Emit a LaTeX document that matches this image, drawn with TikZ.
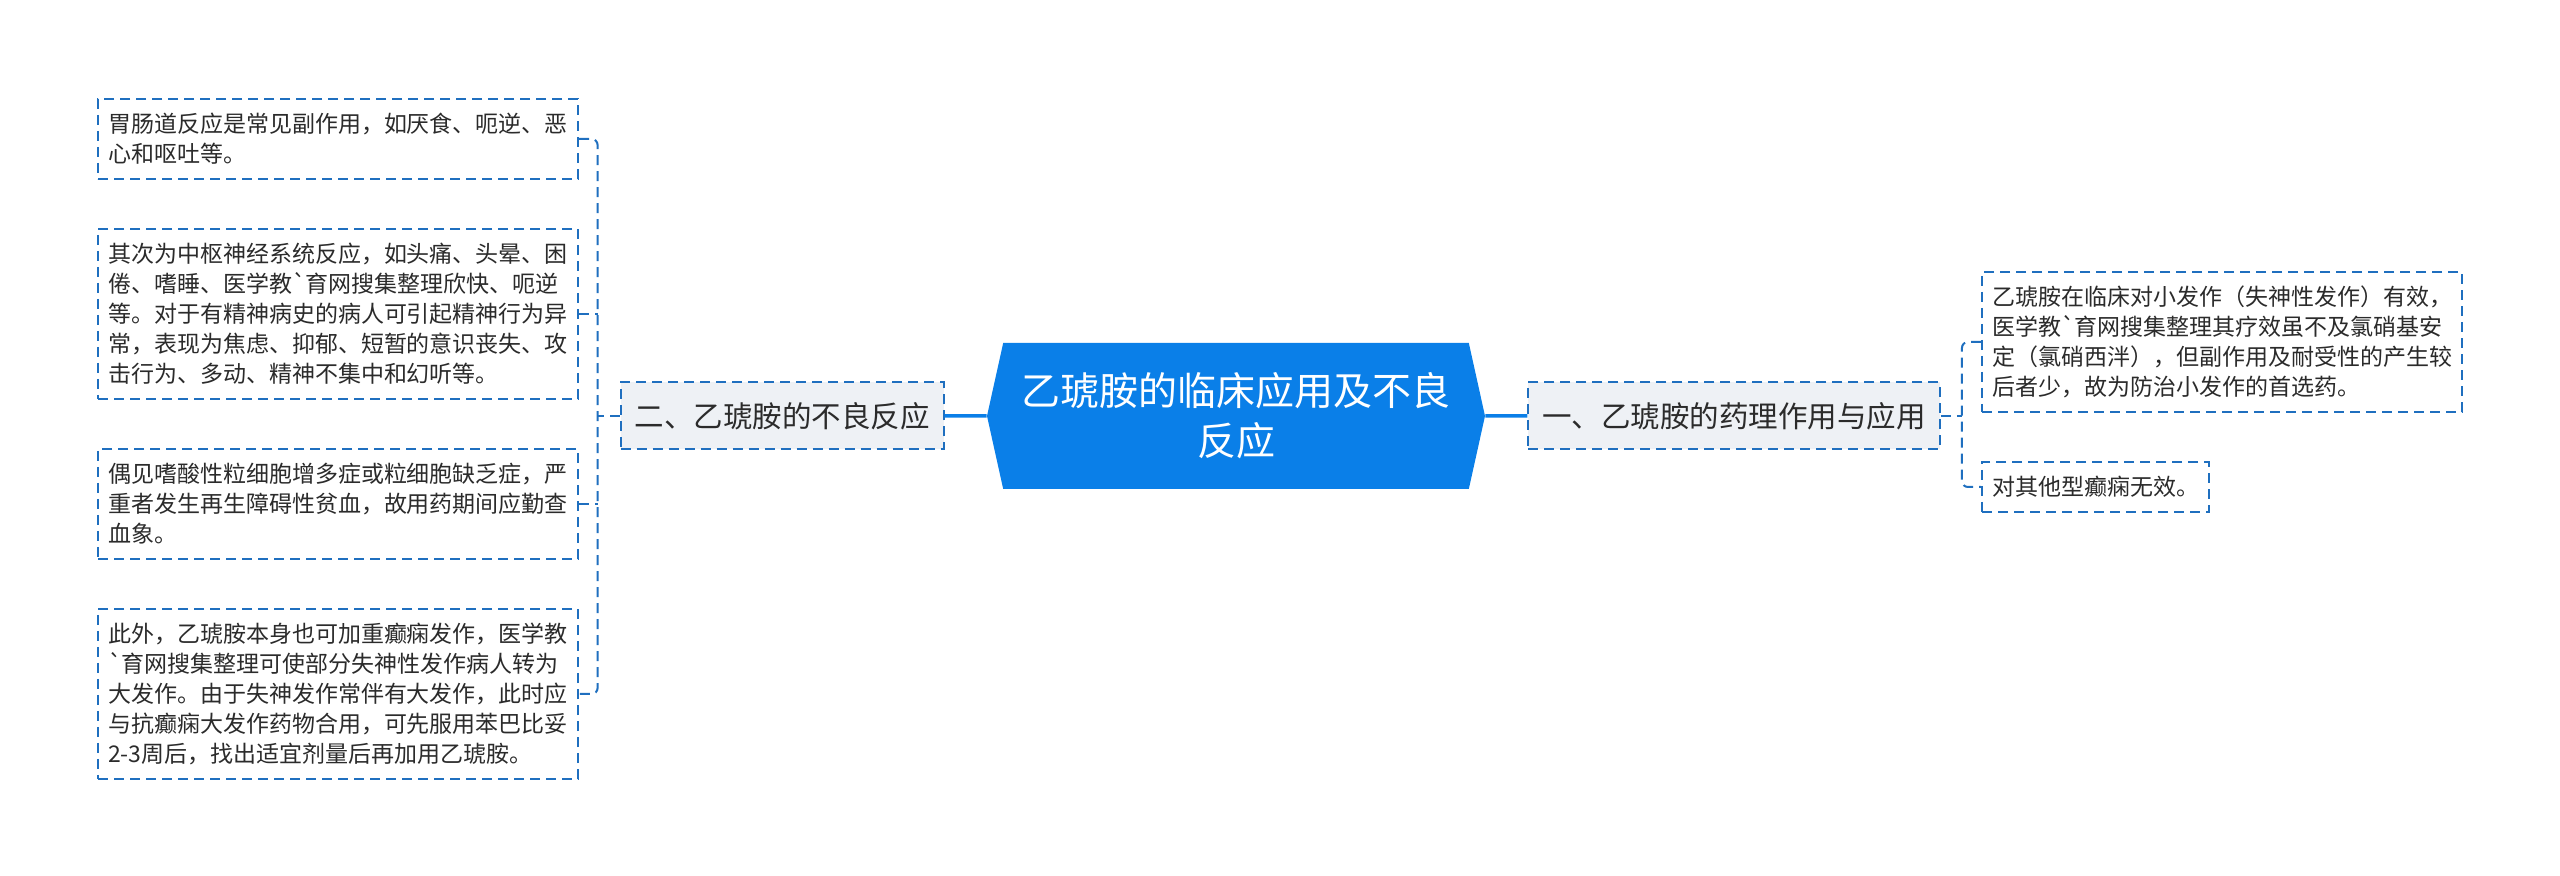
\documentclass[tikz,border=0pt]{standalone}
\usepackage{fontspec}
\newfontfamily\cjk{Noto Sans CJK SC}
\usetikzlibrary{positioning,shapes.symbols}

\definecolor{rootblue}{HTML}{0A7FE8}
\definecolor{linkblue}{HTML}{1F6FBF}
\definecolor{branchgray}{HTML}{EEF1F5}
\definecolor{leaftext}{HTML}{2B2B2B}

\begin{document}
\begin{tikzpicture}[
    x = 0.5pt, y = -0.5pt, % one unit = one pixel of the reference
    node distance = 24pt, % gap between stacked leaves
    link/.style = {draw = linkblue, line width = 1pt, dash pattern = on 5pt off 3pt, rounded corners = 3pt},
    spoke/.style = {draw = rootblue, line width = 1.75pt},
    root/.style = {signal, signal to = east and west, signal pointer angle = 155,
        fill = rootblue, text = white, align = center, inner sep = 0pt,
        minimum width = 249pt, minimum height = 73pt,
        font = \cjk\fontsize{19.5pt}{25pt}\selectfont},
    branch/.style = {draw = linkblue, line width = 1pt, dash pattern = on 5pt off 3pt,
        fill = branchgray, text = leaftext, inner xsep = 7pt, minimum height = 33.5pt,
        font = \cjk\fontsize{14.75pt}{18pt}\selectfont},
    leaf/.style = {draw = linkblue, line width = 1pt, dash pattern = on 5pt off 3pt,
        fill = white, text = leaftext, align = left, inner xsep = 5pt, inner ysep = 2pt,
        font = \cjk\fontsize{11.5pt}{15pt}\selectfont}
    ]
    \useasboundingbox (0,0) rectangle (2560,876);

    \node[root] (root) at (1236,416) {乙琥胺的临床应用及不良\\反应};
    \node[branch] (b1) [right=21pt of root] {一、乙琥胺的药理作用与应用};
    \node[branch] (b2) [left=21pt of root] {二、乙琥胺的不良反应};

    % left leaves
    \node[leaf, minimum height = 40pt] (l1) at (338,139) {胃肠道反应是常见副作用，如厌食、呃逆、恶\\心和呕吐等。};
    \node[leaf, minimum height = 85pt] (l2) [below=of l1] {其次为中枢神经系统反应，如头痛、头晕、困\\倦、嗜睡、医学教`育网搜集整理欣快、呃逆\\等。对于有精神病史的病人可引起精神行为异\\常，表现为焦虑、抑郁、短暂的意识丧失、攻\\击行为、多动、精神不集中和幻听等。};
    \node[leaf, minimum height = 55pt] (l3) [below=of l2] {偶见嗜酸性粒细胞增多症或粒细胞缺乏症，严\\重者发生再生障碍性贫血，故用药期间应勤查\\血象。};
    \node[leaf, minimum height = 85pt] (l4) [below=of l3] {此外，乙琥胺本身也可加重癫痫发作，医学教\\`育网搜集整理可使部分失神性发作病人转为\\大发作。由于失神发作常伴有大发作，此时应\\与抗癫痫大发作药物合用，可先服用苯巴比妥\\2-3周后，找出适宜剂量后再加用乙琥胺。};

    % right leaves
    \node[leaf, minimum height = 70pt, anchor = west] (r1) at (1981,342) {乙琥胺在临床对小发作（失神性发作）有效，\\医学教`育网搜集整理其疗效虽不及氯硝基安\\定（氯硝西泮），但副作用及耐受性的产生较\\后者少，故为防治小发作的首选药。};
    \node[leaf, minimum height = 25pt] (r2) [below=of r1.south west, anchor = north west] {对其他型癫痫无效。};

    \draw[spoke] (root) -- (b1);
    \draw[spoke] (root) -- (b2);

    \coordinate (lt) at ([xshift=-11pt]b2.west);
    \draw[link] (l1.east) -| (lt) |- (l4.east);
    \draw[link] (b2.west) -- (lt);
    \draw[link] (l2.east) -- (l2.east -| lt);
    \draw[link] (l3.east) -- (l3.east -| lt);

    \coordinate (rt) at ([xshift=10.5pt]b1.east);
    \draw[link] (r1.west) -| (rt) |- (r2.west);
    \draw[link] (b1.east) -- (rt);
\end{tikzpicture}
\end{document}
